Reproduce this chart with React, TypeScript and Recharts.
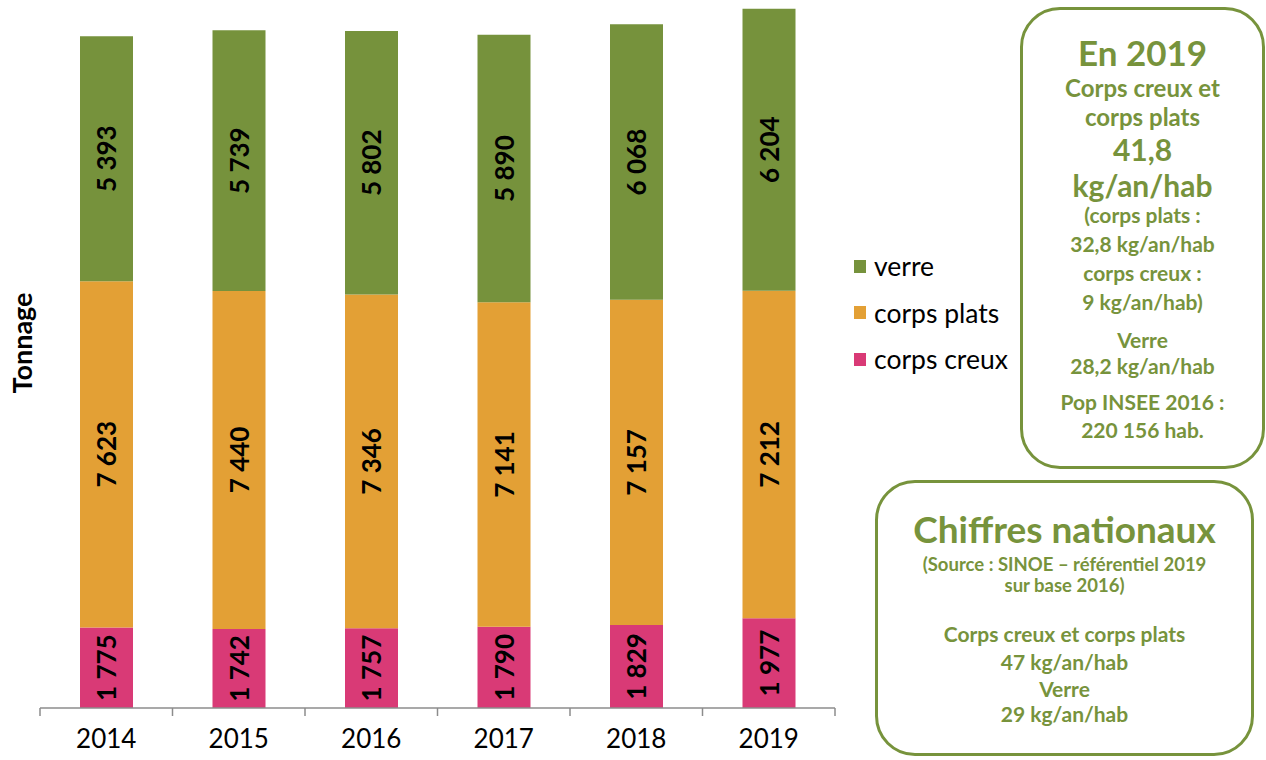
import React from 'react';
import { BarChart, Bar, XAxis, YAxis, Legend, LabelList } from 'recharts';

const years = ['2014', '2015', '2016', '2017', '2018', '2019'];
const corpsCreux = [1775, 1742, 1757, 1790, 1829, 1977];
const corpsPlats = [7623, 7440, 7346, 7141, 7157, 7212];
const verre = [5393, 5739, 5802, 5890, 6068, 6204];

const GREEN = '#76923c';
const ORANGE = '#e3a035';
const PINK = '#d93a76';
const BOX = '#77933c';
const AXIS = '#8c8c8c';
const TICK_SIZE = 8;
const TICK_MARGIN = 14;

const data = years.map((year, i) => ({
  year,
  creux: corpsCreux[i],
  plats: corpsPlats[i],
  verre: verre[i],
}));

const fmt = (v: number) => String(v).replace(/\B(?=(\d{3})+(?!\d))/g, ' ');

const renderLabel = (props: any) => {
  const { x, y, width, height, value } = props;
  const cx = Number(x) + Number(width) / 2;
  const cy = Number(y) + Number(height) / 2;
  return (
    <text
      x={cx}
      y={cy}
      transform={`rotate(-90 ${cx} ${cy})`}
      textAnchor="middle"
      dominantBaseline="central"
      fontFamily="Lato"
      fontWeight="bold"
      fontSize={26}
      fill="#000"
    >
      {fmt(Number(value))}
    </text>
  );
};

const XTick = (props: any) => {
  const { x, y, payload, index, visibleTicksCount } = props;
  const off = payload && payload.offset != null ? payload.offset : 0;
  const ay = y - TICK_SIZE - TICK_MARGIN;
  const isLast = index === visibleTicksCount - 1;
  return (
    <g>
      <line x1={x - off} x2={x - off} y1={ay} y2={ay + TICK_SIZE} stroke={AXIS} strokeWidth={1.5} />
      {isLast && <line x1={x + off} x2={x + off} y1={ay} y2={ay + TICK_SIZE} stroke={AXIS} strokeWidth={1.5} />}
      <text x={x} y={y} dy="0.71em" textAnchor="middle" fontFamily="Lato" fontSize={26} fill="#000">
        {payload.value}
      </text>
    </g>
  );
};

const renderLegend = (props: any) => {
  const items = [...(props.payload || [])].reverse();
  return (
    <div>
      {items.map((it: any) => (
        <div key={it.value} style={{ display: 'flex', alignItems: 'center', height: 46.5 }}>
          <span style={{ display: 'inline-block', width: 12, height: 13, background: it.color, marginRight: 8 }} />
          <span style={{ fontFamily: 'Lato', fontSize: 26.5, color: '#000', whiteSpace: 'nowrap' }}>{it.value}</span>
        </div>
      ))}
    </div>
  );
};

const TonnageLabel = (props: any) => {
  const vb = props.viewBox || {};
  const cx = vb.x + 21;
  const cy = vb.y + vb.height / 2 - 13;
  return (
    <text
      x={cx}
      y={cy}
      transform={`rotate(-90 ${cx} ${cy})`}
      textAnchor="middle"
      dominantBaseline="central"
      fontFamily="Lato"
      fontWeight="bold"
      fontSize={27}
      fill="#000"
    >
      Tonnage
    </text>
  );
};

const Line = ({ cy, size, children, left, width }: any) => {
  const h = size * 1.2;
  return (
    <div
      style={{
        position: 'absolute',
        left,
        width,
        top: cy - h / 2,
        height: h,
        lineHeight: `${h}px`,
        fontSize: size,
        fontFamily: 'Lato',
        fontWeight: 'bold',
        color: BOX,
        textAlign: 'center',
        whiteSpace: 'nowrap',
      }}
    >
      {children}
    </div>
  );
};

const box1Lines: [number, number, string][] = [
  [52, 35, 'En 2019'],
  [88, 24, 'Corps creux et'],
  [117, 24, 'corps plats'],
  [149, 30, '41,8'],
  [185, 30, 'kg/an/hab'],
  [215, 21, '(corps plats :'],
  [244, 21, '32,8 kg/an/hab'],
  [273, 21, 'corps creux :'],
  [302, 21, '9 kg/an/hab)'],
  [340, 21, 'Verre'],
  [366, 21, '28,2 kg/an/hab'],
  [402, 21, 'Pop INSEE 2016 :'],
  [430, 21, '220 156 hab.'],
];

const box2Lines: [number, number, string][] = [
  [529, 37, 'Chiffres nationaux'],
  [564, 18.5, '(Source : SINOE \u2013 référentiel 2019'],
  [585, 18.5, 'sur base 2016)'],
  [634, 21, 'Corps creux et corps plats'],
  [662, 21, '47 kg/an/hab'],
  [689, 21, 'Verre'],
  [714, 21, '29 kg/an/hab'],
];

export default function App() {
  return (
    <div style={{ position: 'absolute', left: 0, top: 0, width: 1266, height: 760, background: '#fff', overflow: 'hidden' }}>
      <BarChart
        width={1266}
        height={760}
        data={data}
        margin={{ top: 4, right: 431, bottom: 12, left: 0 }}
        barCategoryGap={0}
      >
        <XAxis
          dataKey="year"
          height={40}
          interval={0}
          axisLine={{ stroke: AXIS, strokeWidth: 1.5 }}
          tickLine={false}
          tickSize={TICK_SIZE}
          tickMargin={TICK_MARGIN}
          tick={<XTick />}
        />
        <YAxis
          width={40}
          domain={[0, 15500]}
          axisLine={false}
          tickLine={false}
          tick={false}
          label={<TonnageLabel />}
        />
        <Legend
          layout="vertical"
          align="center"
          verticalAlign="middle"
          wrapperStyle={{ left: 854, top: 243, width: 200 }}
          content={renderLegend}
        />
        <Bar dataKey="creux" name="corps creux" stackId="a" fill={PINK} barSize={53} isAnimationActive={false}>
          <LabelList dataKey="creux" content={renderLabel} />
        </Bar>
        <Bar dataKey="plats" name="corps plats" stackId="a" fill={ORANGE} barSize={53} isAnimationActive={false}>
          <LabelList dataKey="plats" content={renderLabel} />
        </Bar>
        <Bar dataKey="verre" name="verre" stackId="a" fill={GREEN} barSize={53} isAnimationActive={false}>
          <LabelList dataKey="verre" content={renderLabel} />
        </Bar>
      </BarChart>
      <div
        style={{
          position: 'absolute',
          left: 1020,
          top: 7,
          width: 245,
          height: 462,
          border: `3px solid ${BOX}`,
          borderRadius: 40,
          boxSizing: 'border-box',
        }}
      />
      {box1Lines.map(([cy, size, t]) => (
        <Line key={t + cy} cy={cy} size={size} left={1020} width={245}>
          {t}
        </Line>
      ))}
      <div
        style={{
          position: 'absolute',
          left: 875,
          top: 480,
          width: 379,
          height: 276,
          border: `3px solid ${BOX}`,
          borderRadius: 40,
          boxSizing: 'border-box',
        }}
      />
      {box2Lines.map(([cy, size, t]) => (
        <Line key={t + cy} cy={cy} size={size} left={875} width={379}>
          {t}
        </Line>
      ))}
    </div>
  );
}
